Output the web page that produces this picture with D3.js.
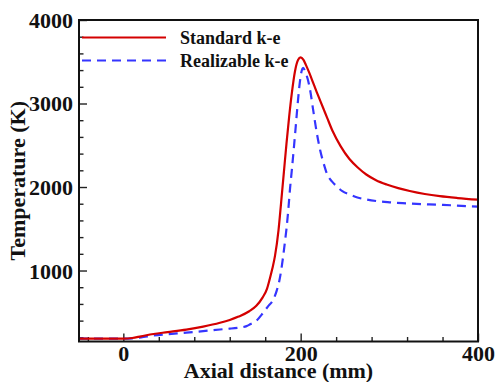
<!DOCTYPE html>
<html>
<head>
<meta charset="utf-8">
<script src="https://cdnjs.cloudflare.com/ajax/libs/d3/7.8.5/d3.min.js"></script>
<style>
  html, body { margin: 0; padding: 0; background: #fff; }
  svg { display: block; }
  text { font-family: "Liberation Serif", "Times New Roman", serif; font-weight: bold; fill: #111; }
</style>
</head>
<body>
<svg id="chart" width="496" height="382"></svg>
<script>
// ---- data ----
const seriesNames = ["Standard k-e", "Realizable k-e"];
const standardX = [-50, 0, 10, 20, 34, 50, 71, 90, 109, 120, 130, 142, 150, 157, 162, 165, 168, 171, 175, 178, 181, 184, 187, 190, 193.5, 197, 200, 203, 206, 210, 214, 218, 222, 226, 230, 236, 245, 255, 265, 274, 285, 297, 310, 323, 340, 357, 377, 400];
const standardT = [185, 185, 192, 212, 240, 262, 292, 328, 374, 408, 448, 512, 578, 676, 780, 894, 1020, 1172, 1480, 1820, 2170, 2520, 2840, 3120, 3380, 3520, 3552, 3525, 3460, 3360, 3250, 3140, 3035, 2930, 2825, 2670, 2490, 2335, 2228, 2150, 2082, 2030, 1986, 1952, 1916, 1890, 1868, 1848];
const realizableX = [-50, 0, 10, 20, 34, 50, 71, 90, 109, 120, 130, 139, 143, 150, 157.7, 163, 169, 173, 176, 178, 180, 182, 184, 186, 188, 190, 192, 194, 196, 198, 200, 202.8, 205, 208, 211, 214, 218, 222, 226, 230, 235, 240.4, 247, 255.4, 264, 274.3, 287, 300.5, 315, 330.6, 345, 360.6, 375, 390.6, 400];
const realizableT = [185, 185, 188, 200, 222, 238, 256, 274, 294, 304, 316, 334, 356, 398, 494, 568, 650, 760, 880, 1000, 1150, 1320, 1500, 1720, 1980, 2200, 2430, 2670, 2920, 3150, 3330, 3428, 3385, 3290, 3140, 2930, 2660, 2440, 2280, 2150, 2070, 2010, 1950, 1909, 1875, 1850, 1830, 1817, 1806, 1798, 1792, 1786, 1778, 1770, 1766];
const xMajorTicks = [0, 200, 400];
const xMinorTicks = [-40, 40, 80, 120, 160, 240, 280, 320, 360];
const yMajorTicks = [1000, 2000, 3000, 4000];
const yMinorTicks = [200, 400, 600, 800, 1200, 1400, 1600, 1800, 2200, 2400, 2600, 2800, 3200, 3400, 3600, 3800];
const xTitle = "Axial distance (mm)";
const yTitle = "Temperature (K)";

// ---- layout ----
const svg = d3.select("#chart");
const L = 79, R = 478, T = 20, B = 341.5;
const x = d3.scaleLinear().domain([-50, 400]).range([L, R]);
const y = d3.scaleLinear().domain([150, 4000]).range([B, T]);

svg.append("defs").append("clipPath").attr("id", "clip")
  .append("rect").attr("x", L).attr("y", T).attr("width", R - L).attr("height", B - T);

// minor ticks (inward)
const gxMinor = svg.append("g").attr("transform", `translate(0,${B})`)
  .call(d3.axisBottom(x).tickValues(xMinorTicks).tickSize(-4.5).tickFormat(""));
const gyMinor = svg.append("g").attr("transform", `translate(${L},0)`)
  .call(d3.axisLeft(y).tickValues(yMinorTicks).tickSize(-4.5).tickFormat(""));
// major ticks
const gx = svg.append("g").attr("transform", `translate(0,${B})`)
  .call(d3.axisBottom(x).tickValues(xMajorTicks).tickSize(-8).tickFormat(d3.format("d")));
const gy = svg.append("g").attr("transform", `translate(${L},0)`)
  .call(d3.axisLeft(y).tickValues(yMajorTicks).tickSize(-8).tickFormat(d3.format("d")));

[gxMinor, gyMinor, gx, gy].forEach(g => {
  g.select(".domain").remove();
  g.selectAll(".tick line").attr("stroke", "#222").attr("stroke-width", 1.4);
});
gx.selectAll(".tick text")
  .attr("y", 19).attr("dy", 0)
  .style("font-size", "22px").style("font-family", "'Liberation Serif', serif").style("font-weight", "bold").attr("fill", "#111");
gy.selectAll(".tick text")
  .attr("x", -6).attr("dy", "0.34em")
  .style("font-size", "22px").style("font-family", "'Liberation Serif', serif").style("font-weight", "bold").attr("fill", "#111");

// lines
const mk = (xs, ts) => xs.map((v, i) => [v, ts[i]]);
const line = d3.line().x(d => x(d[0])).y(d => y(d[1])).curve(d3.curveMonotoneX);
const plot = svg.append("g").attr("clip-path", "url(#clip)");
plot.append("path").datum(mk(realizableX, realizableT))
  .attr("d", line).attr("fill", "none").attr("stroke", "#3535ff")
  .attr("stroke-width", 2.2).attr("stroke-dasharray", "9,6");
plot.append("path").datum(mk(standardX, standardT))
  .attr("d", line).attr("fill", "none").attr("stroke", "#d40000")
  .attr("stroke-width", 2.2);

// frame
svg.append("rect").attr("x", L).attr("y", T).attr("width", R - L).attr("height", B - T)
  .attr("fill", "none").attr("stroke", "#111").attr("stroke-width", 2);

// legend
const leg = svg.append("g");
const legItems = [
  { name: seriesNames[0], color: "#d40000", dash: null, y: 37.5 },
  { name: seriesNames[1], color: "#3535ff", dash: "9,6", y: 60.5 }
];
legItems.forEach(it => {
  leg.append("line").attr("x1", 82).attr("x2", 166).attr("y1", it.y).attr("y2", it.y)
    .attr("stroke", it.color).attr("stroke-width", 2.2)
    .attr("stroke-dasharray", it.dash);
  leg.append("text").attr("x", 180).attr("y", it.y + 6)
    .style("font-size", "18px").text(it.name);
});

// titles
svg.append("text").attr("x", (L + R) / 2).attr("y", 378).attr("text-anchor", "middle")
  .style("font-size", "22px").text(xTitle);
svg.append("text").attr("transform", `translate(25,${(T + B) / 2}) rotate(-90)`)
  .attr("text-anchor", "middle").style("font-size", "22px").text(yTitle);
</script>
</body>
</html>
